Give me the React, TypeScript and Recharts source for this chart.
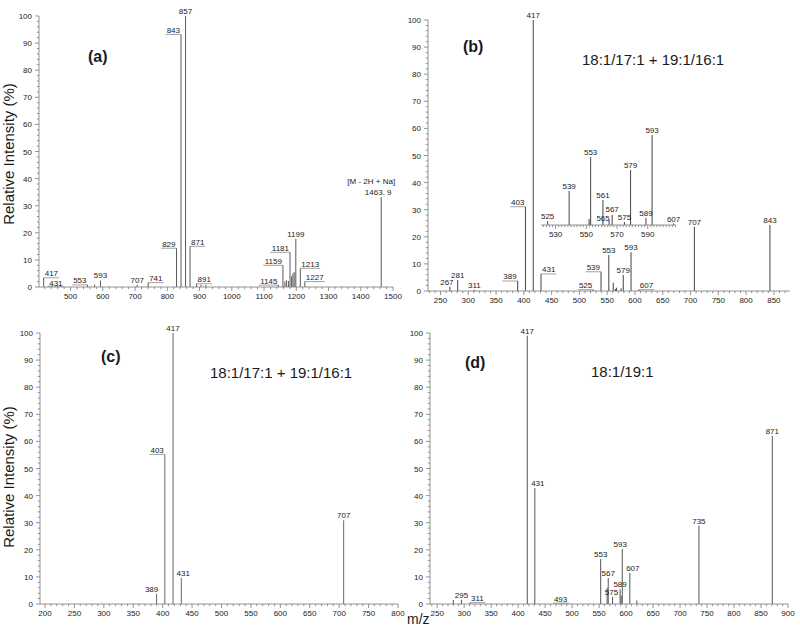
import React from 'react';
import { ComposedChart, Bar, XAxis, YAxis, LabelList } from 'recharts';

const FONT = '"Liberation Sans", Arial, Helvetica, sans-serif';
const AXIS = '#7a7a7a';
const TXT = '#1a1a1a';

// ---------- Panel (a) ----------
const mzA = [417, 431, 553, 575, 593, 707, 741, 829, 843, 857, 871, 891, 905, 920, 1145, 1159, 1165, 1170, 1176, 1181, 1186, 1190, 1194, 1199, 1213, 1227, 1463.9];
const intA = [3.4, 0.3, 0.8, 0.9, 2.4, 0.8, 1.6, 14.3, 93.2, 100, 15.0, 1.2, 0.8, 0.7, 0.7, 8.0, 2.0, 2.5, 2.2, 12.8, 4.0, 5.0, 5.5, 17.7, 6.9, 2.0, 33.1];
const lblA = ['417', '431', '553', '', '593', '707', '741', '829', '843', '857', '871', '891', '', '', '1145', '1159', '', '', '', '1181', '', '', '', '1199', '1213', '1227', '1463. 9'];
const ticksXA = [500, 600, 700, 800, 900, 1000, 1100, 1200, 1300, 1400, 1500];
const annotA = '[M - 2H + Na]';

// ---------- Panel (b) ----------
const mzB = [267, 281, 311, 389, 403, 417, 431, 525, 539, 553, 561, 565, 567, 575, 579, 593, 607, 707, 843];
const intB = [1.6, 4.1, 0.5, 3.7, 31.1, 100, 6.3, 0.5, 7.1, 13.3, 3.0, 0.7, 1.2, 1.0, 5.9, 14.3, 0.5, 23.7, 24.4];
const lblB = ['267', '281', '311', '389', '403', '417', '431', '525', '539', '553', '', '', '', '', '579', '593', '607', '707', '843'];
const ticksXB = [250, 300, 350, 400, 450, 500, 550, 600, 650, 700, 750, 800, 850];

// ---------- Inset of (b) ----------
const mzI = [525, 539, 552, 553, 561, 565, 567, 575, 579, 589, 593, 607];
const intI = [4, 34, 6, 68, 25, 5, 10, 3, 55, 7, 90, 1.5];
const lblI = ['525', '539', '', '553', '561', '565', '567', '575', '579', '589', '593', '607'];
const ticksXI = [530, 550, 570, 590];

// ---------- Panel (c) ----------
const mzC = [389, 403, 417, 431, 707];
const intC = [3.8, 55.2, 100, 9.7, 30.9];
const lblC = ['389', '403', '417', '431', '707'];
const ticksXC = [200, 250, 300, 350, 400, 450, 500, 550, 600, 650, 700, 750, 800];

// ---------- Panel (d) ----------
const mzD = [280, 295, 311, 417, 431, 493, 553, 565, 567, 575, 589, 591, 593, 607, 620, 735, 871];
const intD = [1.5, 1.6, 0.5, 99, 42.8, 0.3, 16.6, 6.0, 9.6, 2.6, 5.4, 3.0, 20.3, 11.4, 1.3, 28.9, 62.1];
const lblD = ['', '295', '311', '417', '431', '493', '553', '', '567', '575', '589', '', '593', '607', '', '735', '871'];
const ticksXD = [250, 300, 350, 400, 450, 500, 550, 600, 650, 700, 750, 800, 850, 900];

const ticksY = [0, 10, 20, 30, 40, 50, 60, 70, 80, 90, 100];

// ---------- label placement (style, kept apart from data) ----------
type Place = { side: 'l' | 'r' | 'c'; dx?: number; dy?: number; extra?: string; extraDx?: number };
const placesA: Record<string, Place> = {
  '417': { side: 'r' }, '431': { side: 'r', dy: 1.5 }, '553': { side: 'l' }, '593': { side: 'c' }, '707': { side: 'c' },
  '741': { side: 'r' }, '829': { side: 'l' }, '843': { side: 'l' }, '857': { side: 'c' }, '871': { side: 'r' },
  '891': { side: 'r' }, '1145': { side: 'l' }, '1159': { side: 'l' }, '1181': { side: 'l' },
  '1199': { side: 'c' }, '1213': { side: 'r' }, '1227': { side: 'r' },
  '1463. 9': { side: 'c', dx: -3, extra: annotA, extraDx: -10 },
};
const placesB: Record<string, Place> = {
  '267': { side: 'c', dx: -3 }, '281': { side: 'c' }, '311': { side: 'c' }, '389': { side: 'l' }, '403': { side: 'l' },
  '417': { side: 'c' }, '431': { side: 'r' }, '525': { side: 'l' }, '539': { side: 'l' }, '553': { side: 'c' },
  '579': { side: 'c' }, '593': { side: 'c' }, '607': { side: 'r' }, '707': { side: 'c' }, '843': { side: 'c' },
};
const placesI: Record<string, Place> = { '565': { side: 'c', dx: -6, dy: 3 }, '567': { side: 'c', dy: -1 } };
const placesC: Record<string, Place> = {
  '389': { side: 'c', dx: -5 }, '403': { side: 'l' }, '417': { side: 'c' }, '431': { side: 'c', dx: 2 }, '707': { side: 'c' },
};
const placesD: Record<string, Place> = {
  '295': { side: 'c' }, '311': { side: 'r' }, '417': { side: 'c' }, '431': { side: 'c', dx: 3 }, '493': { side: 'l' },
  '553': { side: 'c' }, '567': { side: 'c' }, '575': { side: 'c', dx: -1 }, '589': { side: 'c' }, '593': { side: 'c', dx: -2 },
  '607': { side: 'c', dx: 3 }, '735': { side: 'c' }, '871': { side: 'c' },
};

function range(a: number, b: number, s: number): number[] {
  const out: number[] = [];
  for (let v = a; v <= b + 1e-9; v += s) out.push(Math.round(v * 1000) / 1000);
  return out;
}

function build(mz: number[], ints: number[], lbls: string[]) {
  return mz.map((m, i) => ({ mz: m, v: ints[i], lbl: lbls[i] }));
}

function makeXTick(majors: number[], fs: number) {
  const set = new Set(majors);
  return (props: any) => {
    const { x, y, payload } = props;
    const v = payload.value;
    const major = set.has(v);
    return (
      <g>
        <line x1={x} x2={x} y1={y} y2={y + (major ? 4 : 2.2)} stroke={AXIS} strokeWidth={0.8} />
        {major && (
          <text x={x} y={y + 11.5} textAnchor="middle" fontSize={fs} fontFamily={FONT} fill={TXT}>
            {v}
          </text>
        )}
      </g>
    );
  };
}

function makeYTick(majors: number[], fs: number) {
  const set = new Set(majors);
  return (props: any) => {
    const { x, y, payload } = props;
    const v = payload.value;
    const major = set.has(v);
    return (
      <g>
        <line x1={x} x2={x - (major ? 4 : 2.2)} y1={y} y2={y} stroke={AXIS} strokeWidth={0.8} />
        {major && (
          <text x={x - 7} y={y + 3} textAnchor="end" fontSize={fs} fontFamily={FONT} fill={TXT}>
            {v}
          </text>
        )}
      </g>
    );
  };
}

function makeLabel(places: Record<string, Place>, fs: number) {
  return (props: any) => {
    const value = props.value;
    if (!value) return null;
    const vb = props.viewBox || {};
    const bx = vb.x ?? props.x;
    const bw = vb.width ?? props.width ?? 0;
    const by = vb.y ?? props.y;
    if (bx == null || by == null) return null;
    const cx = bx + bw / 2;
    const top = by;
    const pl: Place = places[value] || { side: 'c' };
    const dx = pl.dx || 0;
    const dy = pl.dy || 0;
    const w = String(value).length * fs * 0.556;
    const common = { fontSize: fs, fontFamily: FONT, fill: TXT };
    if (pl.side === 'c') {
      return (
        <g>
          {pl.extra && (
            <text x={cx + (pl.extraDx || 0)} y={top - 2 - fs * 1.35} textAnchor="middle" {...common}>
              {pl.extra}
            </text>
          )}
          <text x={cx + dx} y={top - 2 + dy} textAnchor="middle" {...common}>
            {value}
          </text>
        </g>
      );
    }
    const ty = top - 1.5 + dy;
    if (pl.side === 'l') {
      return (
        <g>
          <line x1={cx - w - 2 + dx} x2={cx} y1={top} y2={top} stroke={AXIS} strokeWidth={0.7} />
          <text x={cx - 1 + dx} y={ty} textAnchor="end" {...common}>
            {value}
          </text>
        </g>
      );
    }
    return (
      <g>
        <line x1={cx} x2={cx + w + 2 + dx} y1={top} y2={top} stroke={AXIS} strokeWidth={0.7} />
        <text x={cx + 1 + dx} y={ty} textAnchor="start" {...common}>
          {value}
        </text>
      </g>
    );
  };
}

type PanelProps = {
  data: any[];
  domain: [number, number];
  majors: number[];
  minorStep: number;
  left: number;
  top: number;
  width: number;
  height: number;
  margin: { top: number; right: number; bottom: number; left: number };
  yWidth: number;
  xHeight: number;
  color: string;
  places: Record<string, Place>;
  showY?: boolean;
  fs?: number;
};

function Panel(p: PanelProps) {
  const fs = p.fs ?? 8;
  const minor = range(Math.ceil(p.domain[0] / p.minorStep) * p.minorStep, p.domain[1], p.minorStep);
  const xt = Array.from(new Set([...minor, ...p.majors])).filter((v) => v >= p.domain[0] && v <= p.domain[1]).sort((a, b) => a - b);
  const yt = range(0, 100, 2);
  const showY = p.showY !== false;
  return (
    <div style={{ position: 'absolute', left: p.left, top: p.top }}>
      <ComposedChart width={p.width} height={p.height} data={p.data} margin={p.margin}>
        <XAxis
          type="number"
          dataKey="mz"
          domain={p.domain}
          allowDataOverflow
          ticks={xt}
          interval={0}
          tickSize={0}
          tickMargin={0}
          tickLine={false}
          axisLine={{ stroke: AXIS, strokeWidth: 0.8 }}
          height={p.xHeight}
          tick={makeXTick(p.majors, fs)}
        />
        {showY ? (
          <YAxis
            type="number"
            domain={[0, 100]}
            allowDataOverflow
            ticks={yt}
            interval={0}
            tickSize={0}
            tickMargin={0}
            tickLine={false}
            axisLine={{ stroke: AXIS, strokeWidth: 0.8 }}
            width={p.yWidth}
            tick={makeYTick(ticksY, fs)}
          />
        ) : (
          <YAxis hide type="number" domain={[0, 100]} allowDataOverflow />
        )}
        <Bar dataKey="v" barSize={1} fill={p.color} isAnimationActive={false}>
          <LabelList dataKey="lbl" content={makeLabel(p.places, fs)} />
        </Bar>
      </ComposedChart>
    </div>
  );
}

export default function App() {
  const t = { fontFamily: FONT, fill: TXT };
  return (
    <div style={{ position: 'absolute', left: 0, top: 0, width: 800, height: 629, background: '#fff', overflow: 'hidden' }}>
      <Panel
        data={build(mzA, intA, lblA)}
        domain={[402, 1500]}
        majors={ticksXA}
        minorStep={20}
        left={0}
        top={0}
        width={412}
        height={310}
        margin={{ top: 16, right: 19, left: 9, bottom: 0 }}
        yWidth={30}
        xHeight={23}
        color="#5a5a5a"
        places={placesA}
      />
      <Panel
        data={build(mzB, intB, lblB)}
        domain={[227.5, 879]}
        majors={ticksXB}
        minorStep={10}
        left={400}
        top={0}
        width={400}
        height={310}
        margin={{ top: 20, right: 10, left: 4, bottom: 0 }}
        yWidth={24}
        xHeight={19}
        color="#444"
        places={placesB}
      />
      <Panel
        data={build(mzI, intI, lblI)}
        domain={[520.5, 608.4]}
        majors={ticksXI}
        minorStep={2}
        left={530}
        top={120}
        width={160}
        height={125}
        margin={{ top: 5, right: 14, left: 11, bottom: 0 }}
        yWidth={0}
        xHeight={20}
        color="#444"
        places={placesI}
        showY={false}
      />
      <Panel
        data={build(mzC, intC, lblC)}
        domain={[191.5, 800]}
        majors={ticksXC}
        minorStep={10}
        left={0}
        top={310}
        width={410}
        height={319}
        margin={{ top: 23, right: 12, left: 10, bottom: 0 }}
        yWidth={30}
        xHeight={25}
        color="#666"
        places={placesC}
      />
      <Panel
        data={build(mzD, intD, lblD)}
        domain={[236.7, 900]}
        majors={ticksXD}
        minorStep={10}
        left={400}
        top={310}
        width={400}
        height={319}
        margin={{ top: 23, right: 12, left: 6, bottom: 0 }}
        yWidth={24}
        xHeight={25}
        color="#555"
        places={placesD}
      />
      <svg width={800} height={629} style={{ position: 'absolute', left: 0, top: 0, pointerEvents: 'none' }}>
        <text x={88} y={61.5} fontSize={16} fontWeight="bold" {...t}>(a)</text>
        <text x={463} y={51.5} fontSize={16} fontWeight="bold" {...t}>(b)</text>
        <text x={101} y={362} fontSize={16} fontWeight="bold" {...t}>(c)</text>
        <text x={465} y={368} fontSize={16} fontWeight="bold" {...t}>(d)</text>
        <text x={582} y={65} fontSize={15} {...t}>18:1/17:1 + 19:1/16:1</text>
        <text x={210} y={378} fontSize={15} {...t}>18:1/17:1 + 19:1/16:1</text>
        <text x={591} y={376.5} fontSize={15} {...t}>18:1/19:1</text>
        <text x={13.5} y={154} fontSize={15} textAnchor="middle" transform="rotate(-90 13.5 154)" {...t}>Relative Intensity (%)</text>
        <text x={13.5} y={477} fontSize={15} textAnchor="middle" transform="rotate(-90 13.5 477)" {...t}>Relative Intensity (%)</text>
        <text x={407} y={624} fontSize={14} {...t}>m/z</text>
      </svg>
    </div>
  );
}
